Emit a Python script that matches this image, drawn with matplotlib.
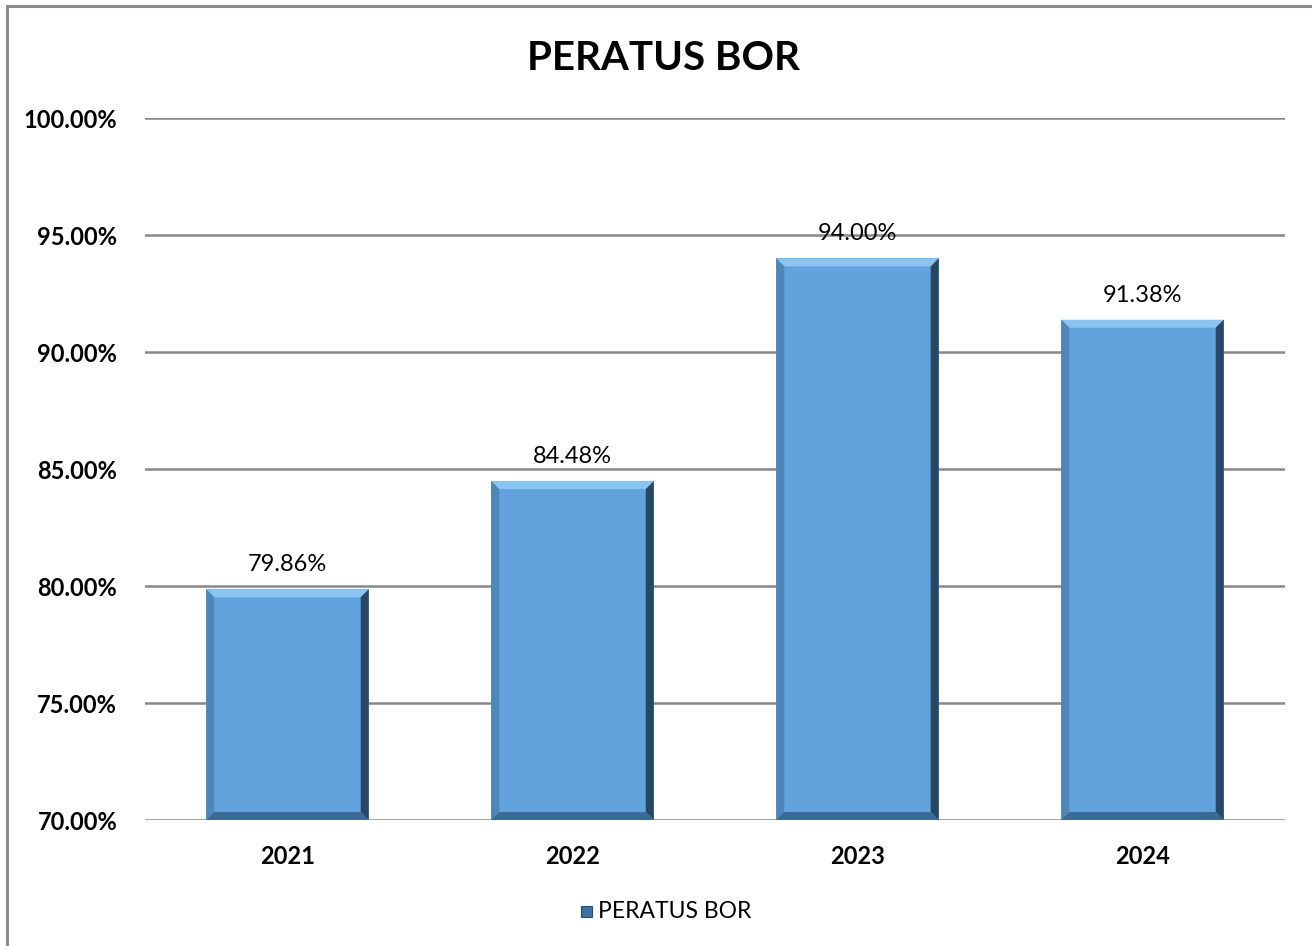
import matplotlib

matplotlib.use("Agg")
import matplotlib.pyplot as plt
from matplotlib.patches import Polygon, Rectangle

plt.rcParams["font.family"] = ["Lato", "DejaVu Sans"]

years = ["2021", "2022", "2023", "2024"]
bor = [79.86, 84.48, 94.00, 91.38]
series_name = "PERATUS BOR"
y_ticks = [70, 75, 80, 85, 90, 95, 100]

W, H = 1312, 946
fig = plt.figure(figsize=(W / 100, H / 100), dpi=100)
ax = fig.add_axes([145 / W, 1 - 820 / H, 1140 / W, 702 / H])

# outer chart border (only left and top visible in the reference)
fig.patches.append(
    Rectangle((7 / W, -0.1), 1.2, 1 - 6 / H + 0.1, transform=fig.transFigure,
              fill=False, edgecolor="#8c8c8c", linewidth=2.2)
)

ymin, ymax = 70, 100
ax.set_ylim(ymin, ymax)
ax.set_xlim(-0.5, len(years) - 0.5)

face = "#62a3dd"
width = 0.57
x = list(range(len(years)))
bars = ax.bar(x, [v - ymin for v in bor], bottom=ymin, width=width,
              color=face, edgecolor="none", zorder=3)

# bevel effect: size in pixels converted to data units
px_x = (len(years)) / 1140
px_y = (ymax - ymin) / 702
bx, by = 8 * px_x, 8 * px_y
for b in bars:
    x0, x1 = b.get_x(), b.get_x() + b.get_width()
    y0, y1 = b.get_y(), b.get_y() + b.get_height()
    sides = [
        ([(x0, y1), (x1, y1), (x1 - bx, y1 - by), (x0 + bx, y1 - by)], "#8cc4f0"),
        ([(x0, y0), (x0, y1), (x0 + bx, y1 - by), (x0 + bx, y0 + by)], "#4f86b8"),
        ([(x1, y0), (x1, y1), (x1 - bx, y1 - by), (x1 - bx, y0 + by)], "#264766"),
        ([(x0, y0), (x1, y0), (x1 - bx, y0 + by), (x0 + bx, y0 + by)], "#3a6a96"),
    ]
    for pts, c in sides:
        ax.add_patch(Polygon(pts, closed=True, facecolor=c, edgecolor="none", zorder=4))
    ax.text(b.get_x() + b.get_width() / 2, y1 + 0.6, f"{y1:.2f}%",
            ha="center", va="bottom", fontsize=17, color="#000000", zorder=5)

ax.set_yticks(y_ticks)
ax.set_yticklabels([f"{t:.2f}%" for t in y_ticks], fontsize=17, fontweight="bold")
ax.set_xticks(x)
ax.set_xticklabels(years, fontsize=17, fontweight="bold")
ax.tick_params(axis="y", length=0, pad=20)
ax.tick_params(axis="x", length=0, pad=18)
ax.grid(axis="y", color="#888888", linewidth=1.8, zorder=0)
for s in ax.spines.values():
    s.set_visible(False)

fig.text(663 / W, 1 - 58 / H, "PERATUS BOR", ha="center", va="center",
         fontsize=29, fontweight="bold")

# legend
fig.patches.append(
    Rectangle((581 / W, 1 - 917 / H), 11 / W, 11 / H, transform=fig.transFigure,
              facecolor="#3f6f9e", edgecolor="#2b4d70", linewidth=0.8)
)
fig.text(598 / W, 1 - 911 / H, series_name, ha="left", va="center", fontsize=16.5)

fig.savefig("out.png", dpi=100)
plt.close(fig)
